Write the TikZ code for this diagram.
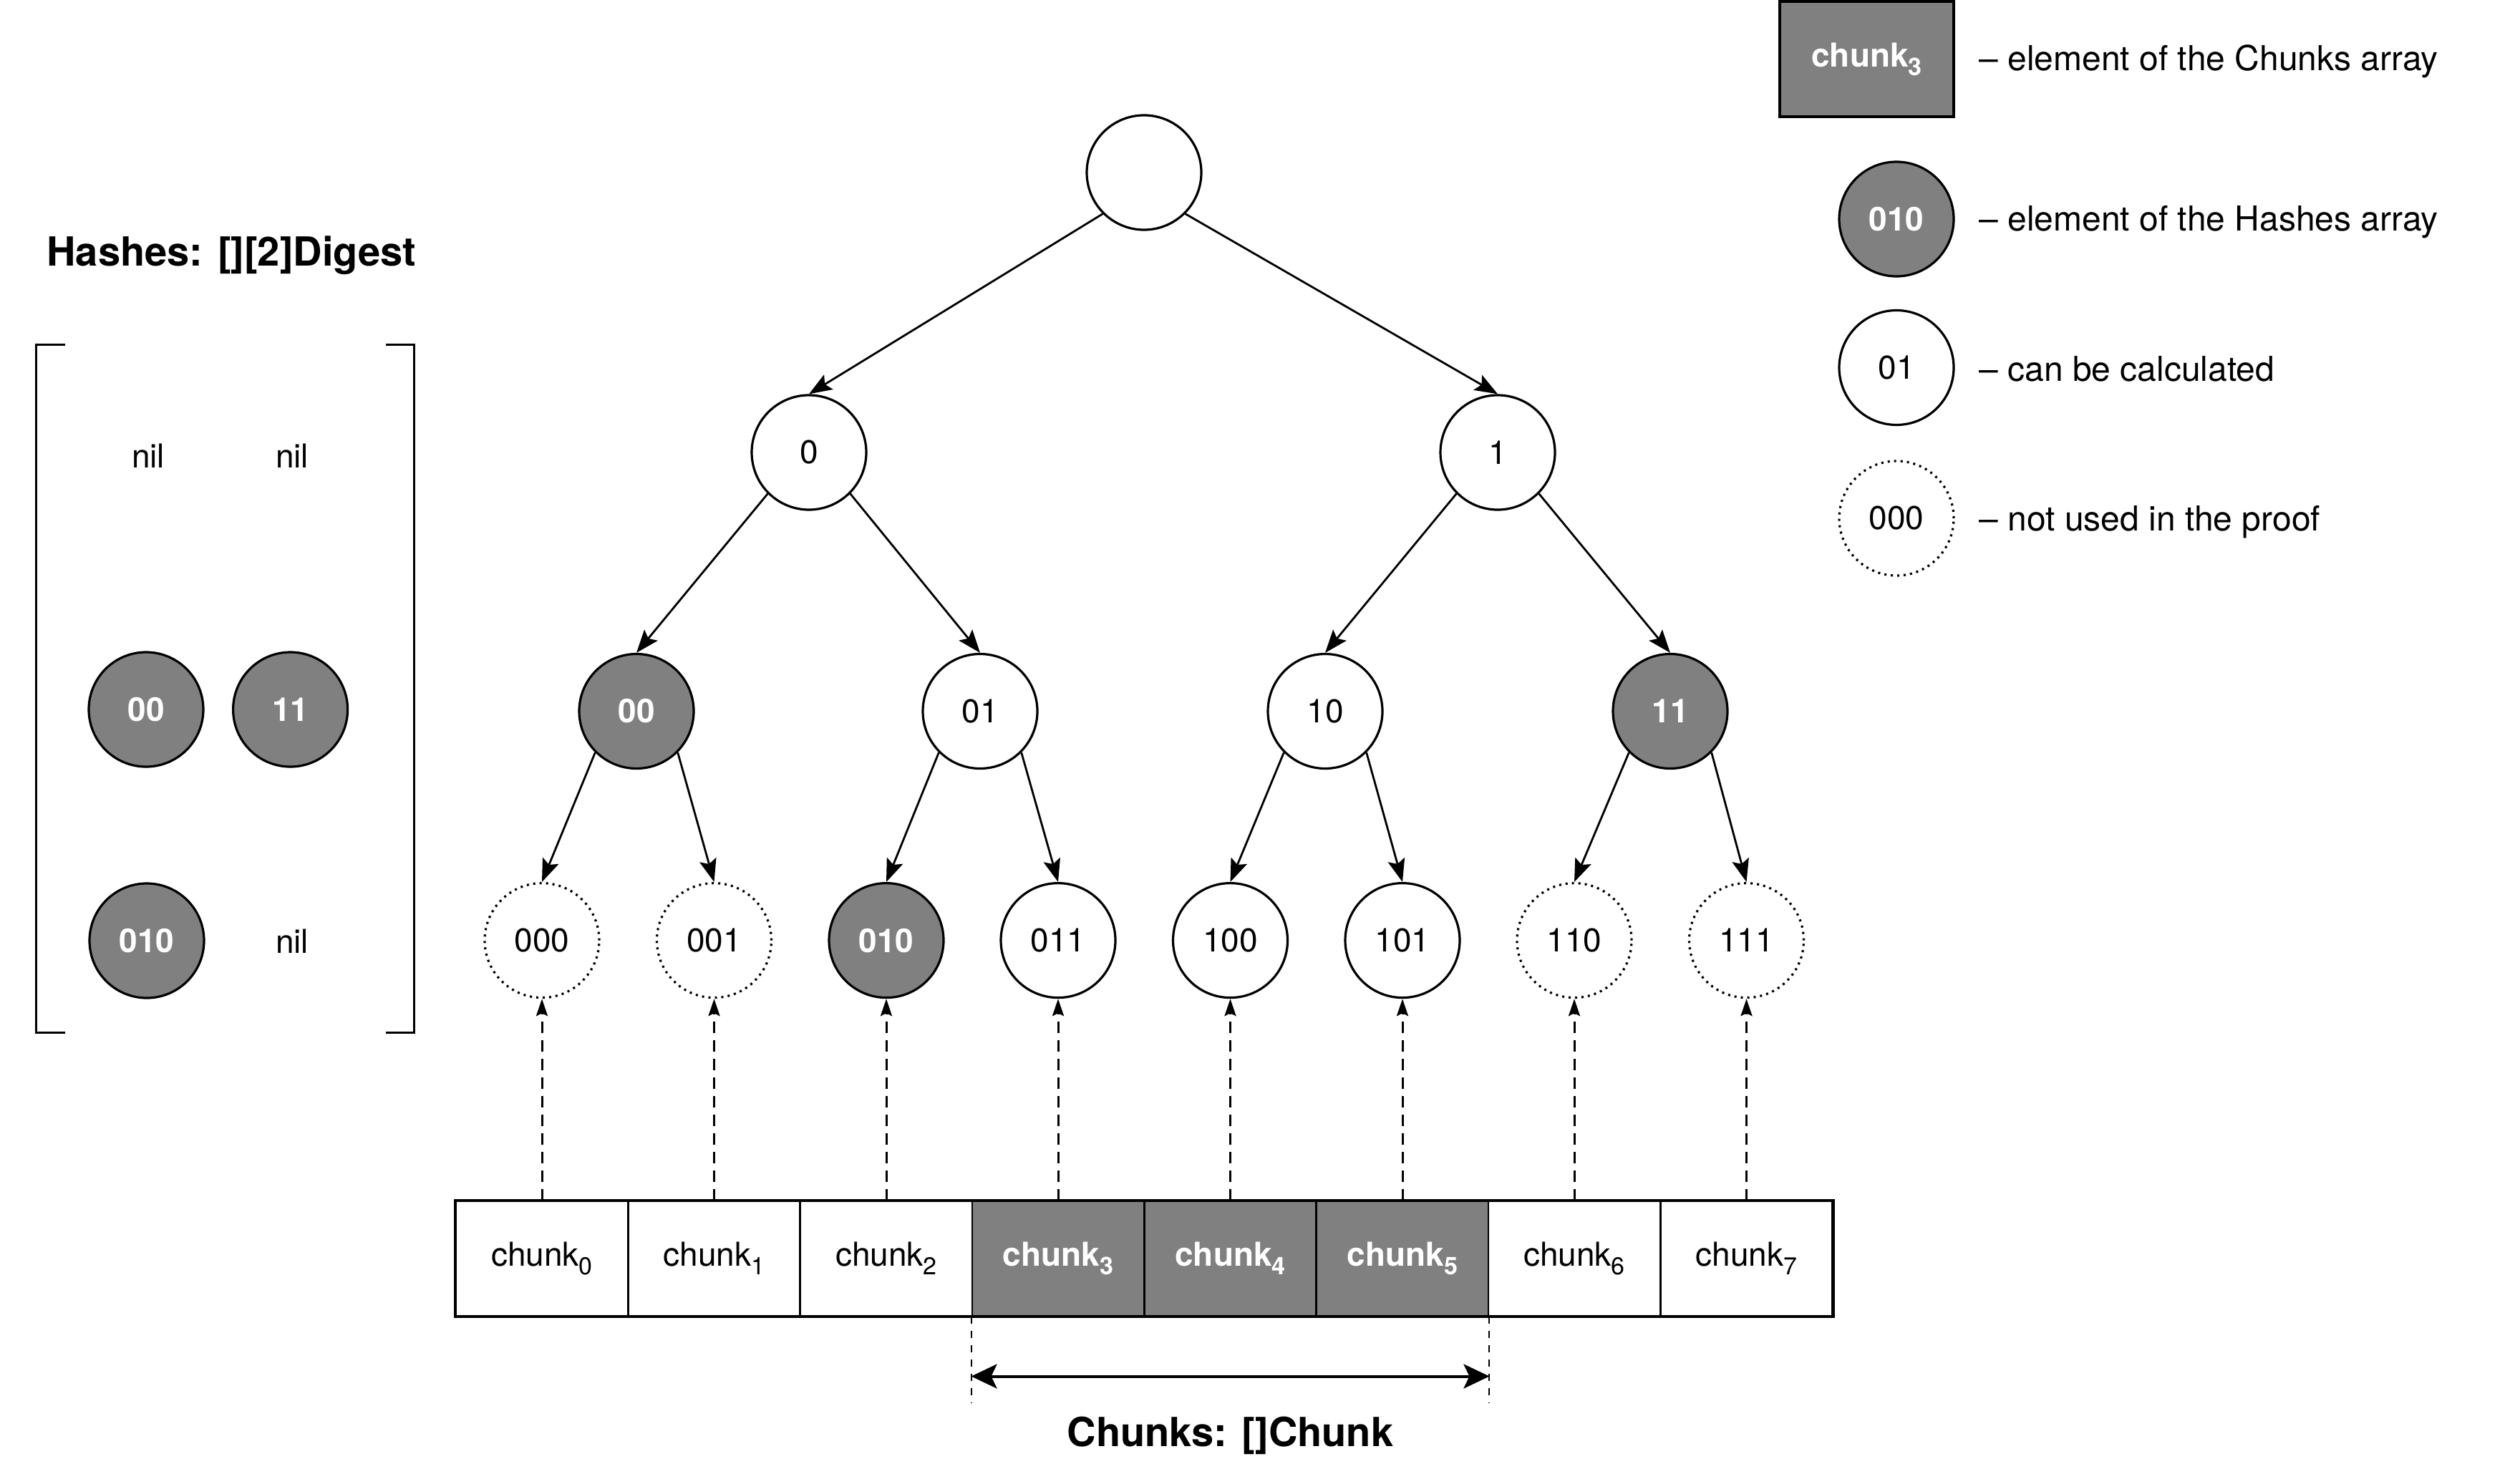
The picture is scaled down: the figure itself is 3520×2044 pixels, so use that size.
\documentclass[tikz,border=0pt]{standalone}
\usepackage{fontspec}
\setmainfont{TeX Gyre Heros}
\usetikzlibrary{arrows.meta}
\newcommand{\chsub}[1]{\raisebox{-0.26em}{\fontsize{17}{17}\selectfont #1}}
\definecolor{hg}{HTML}{808080}
\begin{document}
\begin{tikzpicture}[x=0.5pt,y=-0.5pt,
  every node/.style={font=\fontsize{23}{27}\selectfont},
  circ/.style={circle, draw, line width=1.6pt, minimum size=80pt, inner sep=0pt},
  hashn/.style={circ, fill=hg, text=white, font=\fontsize{23}{27}\selectfont\bfseries},
  calcn/.style={circ, fill=white},
  unusedn/.style={circ, dash pattern=on 1.5pt off 3pt},
  cell/.style={rectangle, draw, line width=1.3pt, minimum width=120.15pt, minimum height=80pt, inner sep=0pt},
  gcell/.style={cell, fill=hg, text=white, font=\fontsize{23}{27}\selectfont\bfseries},
  edge/.style={line width=1.4pt, -{Stealth[length=16pt,width=12pt,inset=3pt]}},
  darrow/.style={line width=1.5pt, dash pattern=on 8pt off 5pt, -{Stealth[length=12pt,width=8pt,inset=2pt]}},
  guide/.style={line width=1pt, dash pattern=on 5pt off 5pt},
  title/.style={font=\fontsize{28}{32}\selectfont\bfseries},
  legtext/.style={anchor=west, inner sep=0pt, font=\fontsize{24}{28}\selectfont},
  bracket/.style={line width=1.5pt}
]
\useasboundingbox (0,0) rectangle (3520,2044);
\fill[white] (0,0) rectangle (3520,2044);

% tree
\node[calcn] (root) at (1598,241) {};
\node[calcn] (n0) at (1130,632) {0};
\node[calcn] (n1) at (2092,632) {1};
\node[hashn] (n00) at (889,993.5) {00};
\node[calcn] (n01) at (1369,993.5) {01};
\node[calcn] (n10) at (1851,993.5) {10};
\node[hashn] (n11) at (2333,993.5) {11};
\node[unusedn] (n000) at (757,1313.6) {000};
\node[unusedn] (n001) at (997.5,1313.6) {001};
\node[hashn] (n010) at (1238,1313.6) {010};
\node[calcn] (n011) at (1478,1313.6) {011};
\node[calcn] (n100) at (1718.5,1313.6) {100};
\node[calcn] (n101) at (1959,1313.6) {101};
\node[unusedn] (n110) at (2199,1313.6) {110};
\node[unusedn] (n111) at (2439.5,1313.6) {111};

\draw[edge] (root.225) -- (n0.north);
\draw[edge] (root.315) -- (n1.north);
\draw[edge] (n0.225) -- (n00.north);
\draw[edge] (n0.315) -- (n01.north);
\draw[edge] (n1.225) -- (n10.north);
\draw[edge] (n1.315) -- (n11.north);
\draw[edge] (n00.225) -- (n000.north);
\draw[edge] (n00.315) -- (n001.north);
\draw[edge] (n01.225) -- (n010.north);
\draw[edge] (n01.315) -- (n011.north);
\draw[edge] (n10.225) -- (n100.north);
\draw[edge] (n10.315) -- (n101.north);
\draw[edge] (n11.225) -- (n110.north);
\draw[edge] (n11.315) -- (n111.north);

% chunks
\node[cell] (c0) at (757,1758) {chunk\chsub{0}};
\node[cell] (c1) at (997.5,1758) {chunk\chsub{1}};
\node[cell] (c2) at (1238,1758) {chunk\chsub{2}};
\node[gcell] (c3) at (1478,1758) {chunk\chsub{3}};
\node[gcell] (c4) at (1718.5,1758) {chunk\chsub{4}};
\node[gcell] (c5) at (1959,1758) {chunk\chsub{5}};
\node[cell] (c6) at (2199,1758) {chunk\chsub{6}};
\node[cell] (c7) at (2439.5,1758) {chunk\chsub{7}};
\draw[line width=2pt] (c0.south west) rectangle (c7.north east);

\draw[darrow] (c0.north) -- (n000.south);
\draw[darrow] (c1.north) -- (n001.south);
\draw[darrow] (c2.north) -- (n010.south);
\draw[darrow] (c3.north) -- (n011.south);
\draw[darrow] (c4.north) -- (n100.south);
\draw[darrow] (c5.north) -- (n101.south);
\draw[darrow] (c6.north) -- (n110.south);
\draw[darrow] (c7.north) -- (n111.south);

\coordinate (ga) at (c3.south west |- 0,1960);
\coordinate (gb) at (c5.south east |- 0,1960);
\coordinate (aa) at (c3.south west |- 0,1922.5);
\coordinate (ab) at (c5.south east |- 0,1922.5);
\draw[guide] (c3.south west) -- (ga);
\draw[guide] (c5.south east) -- (gb);
\draw[line width=2pt, {Stealth[length=18pt,width=17pt,inset=4pt]}-{Stealth[length=18pt,width=17pt,inset=4pt]}] (aa) -- (ab);
\node[title] (chunkstitle) at (1718.5,2005) {Chunks: []Chunk};

% hashes
\node[title] (hashtitle) at (323.5,357) {Hashes: [][2]Digest};
\draw[bracket] (91,481) -- (50,481) -- (50,1442) -- (91,1442);
\draw[bracket] (539,481) -- (578,481) -- (578,1442) -- (539,1442);
\node (nila) at (207,637) {nil};
\node (nilb) at (408,637) {nil};
\node[hashn] (h00) at (204,991) {00};
\node[hashn] (h11) at (405.6,991) {11};
\node[hashn] (h010) at (205,1314) {010};
\node (nilc) at (408,1315) {nil};

% legend
\node[gcell, line width=2pt, minimum width=121.5pt, minimum height=80.5pt] (lc) at (2607.5,82.5) {chunk\chsub{3}};
\node[hashn] (lh) at (2649,306) {010};
\node[calcn] (lk) at (2649,513.5) {01};
\node[unusedn] (lu) at (2649,724) {000};
\node[legtext] (t1) at (2764,86) {– element of the Chunks array};
\node[legtext] (t2) at (2764,310) {– element of the Hashes array};
\node[legtext] (t3) at (2764,515) {– can be calculated};
\node[legtext] (t4) at (2764,729) {– not used in the proof};
\end{tikzpicture}
\end{document}
